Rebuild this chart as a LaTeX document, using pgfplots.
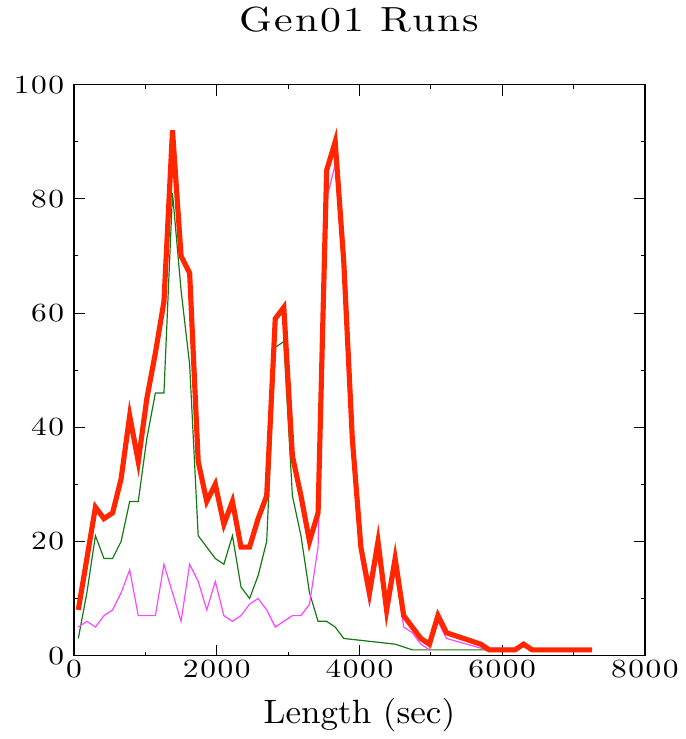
\documentclass[border=0pt]{standalone}
\usepackage{fontspec}
\usepackage{pgfplots}
\pgfplotsset{compat=1.18}
\newfontfamily\tickfont{lmroman10-regular}[Extension=.otf, FakeStretch=1.2, LetterSpace=6]
\newfontfamily\plainfont{lmroman10-regular}[Extension=.otf, FakeStretch=1.04]
\definecolor{redline}{RGB}{255,38,0}
\definecolor{greenline}{RGB}{20,120,20}
\definecolor{magline}{RGB}{255,70,255}
\begin{document}
\begin{tikzpicture}
\begin{axis}[
  scale only axis, width=288pt, height=288pt,
  xmin=0, xmax=8000, ymin=0, ymax=100,
  xtick={0,2000,4000,6000,8000}, minor xtick={1000,3000,5000,7000},
  ytick={0,20,40,60,80,100}, minor ytick={10,30,50,70,90},
  tick align=inside, major tick length=5.5pt, minor tick length=2pt,
  every tick/.style={black, line width=0.5pt},
  axis line style={line width=0.7pt},
  scaled x ticks=false,
  /pgf/number format/1000 sep={},
  /pgf/number format/assume math mode=true,
  ticklabel style={font=\fontsize{13.2}{15}\tickfont},
  yticklabel style={xshift=-1.5pt},
  xticklabel style={yshift=1.4pt},
  title={Gen01 Runs},
  title style={font=\fontsize{17.6}{20}\tickfont, at={(axis description cs:0.5,1)}, anchor=base, yshift=21pt},
  xlabel={Length (sec)},
  xlabel style={font=\fontsize{17}{20}\plainfont, at={(axis description cs:0.5,0)}, anchor=base, yshift=-34.5pt},
]
\addplot[greenline, line width=0.6pt] coordinates {
(60,3) (180,11) (300,21) (420,17) (540,17) (660,20) (780,27) (900,27) (1020,38) (1140,46)
(1260,46) (1380,81) (1500,64) (1620,51) (1740,21) (1860,19) (1980,17) (2100,16) (2220,21)
(2340,12) (2460,10) (2580,14) (2700,20) (2820,54) (2940,55) (3060,28) (3180,21) (3300,11)
(3420,6) (3540,6) (3660,5) (3780,3) (4500,2) (4740,1) (5820,1)
};
\addplot[magline, line width=0.6pt] coordinates {
(60,5) (180,6) (300,5) (420,7) (540,8) (660,11) (780,15) (900,7) (1020,7) (1140,7)
(1260,16) (1380,11) (1500,6) (1620,16) (1740,13) (1860,8) (1980,13) (2100,7) (2220,6)
(2340,7) (2460,9) (2580,10) (2700,8) (2820,5) (2940,6) (3060,7) (3180,7) (3300,9)
(3420,19) (3540,80) (3660,86) (3780,66) (3900,35) (4020,17) (4140,9) (4260,18) (4380,6)
(4500,15) (4620,5) (4740,4) (4860,2) (4980,1) (5100,6) (5220,3) (5700,1.3) (6180,1.3)
};
\addplot[redline, line width=2.6pt, line join=miter] coordinates {
(60,8) (180,17) (300,26) (420,24) (540,25) (660,31) (780,42) (900,34) (1020,45) (1140,53)
(1260,62) (1380,92) (1500,70) (1620,67) (1740,34) (1860,27) (1980,30) (2100,23) (2220,27)
(2340,19) (2460,19) (2580,24) (2700,28) (2820,59) (2940,61) (3060,35) (3180,28) (3300,20)
(3420,25) (3540,85) (3660,90) (3780,69) (3900,38) (4020,19) (4140,11) (4260,20) (4380,8)
(4500,17) (4620,7) (4740,5) (4860,3) (4980,2) (5100,7) (5220,4) (5700,2) (5820,1)
(6180,1) (6300,2) (6420,1) (7260,1)
};
\end{axis}
\path ([xshift=-37.35pt,yshift=-41.5pt]current axis.south west) rectangle ([xshift=20.25pt,yshift=39.75pt]current axis.north east);
\end{tikzpicture}
\end{document}
